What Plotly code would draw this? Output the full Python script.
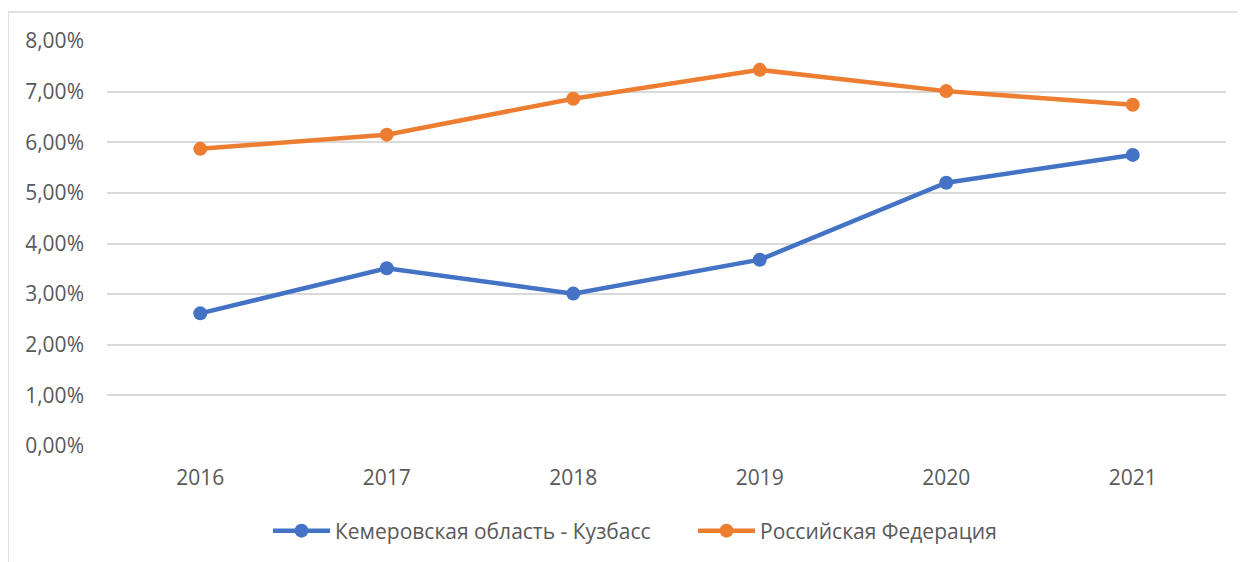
import plotly.graph_objects as go

years = ["2016", "2017", "2018", "2019", "2020", "2021"]
kuzbass = [0.0262, 0.0351, 0.0301, 0.0368, 0.0520, 0.0575]
russia = [0.0587, 0.0615, 0.0686, 0.0743, 0.0701, 0.0674]
y_ticks = [0, 0.01, 0.02, 0.03, 0.04, 0.05, 0.06, 0.07, 0.08]
y_labels = ["0,00%", "1,00%", "2,00%", "3,00%", "4,00%", "5,00%", "6,00%", "7,00%", "8,00%"]

FONT = "Open Sans"
TXT = "#595959"
FS = 21

fig = go.Figure()
fig.add_trace(go.Scatter(x=years, y=kuzbass, mode="lines+markers", name="Кемеровская область - Кузбасс",
                         line=dict(color="#4472C4", width=4.5), marker=dict(size=14, color="#4472C4")))
fig.add_trace(go.Scatter(x=years, y=russia, mode="lines+markers", name="Российская Федерация",
                         line=dict(color="#ED7D31", width=4.5), marker=dict(size=14, color="#ED7D31")))

OFF = 8  # page body margin
W, H = 1245 - OFF, 562 - OFF
L, R, T = 107 - OFF, 19, 41 - OFF
B = H - (447 - OFF)
pw, ph = W - L - R, H - T - B

def px2x(px):
    return (px - OFF - L) / pw

def py2y(py):
    return (H - B - (py - OFF)) / ph

fig.add_shape(type="rect", xref="paper", yref="paper",
              x0=px2x(8), x1=px2x(1244), y0=py2y(575), y1=py2y(12),
              line=dict(color="#D9D9D9", width=1.5), fillcolor="rgba(0,0,0,0)", layer="below")

fig.update_layout(
    width=W, height=H,
    margin=dict(l=L, r=R, t=T, b=B),
    paper_bgcolor="white", plot_bgcolor="white",
    font=dict(family=FONT, size=FS, color=TXT),
    xaxis=dict(type="category", range=[-0.5, 5.5], showgrid=False, zeroline=False,
               showline=False, ticks="", ticklabelstandoff=17,
               tickfont=dict(family=FONT, size=FS, color=TXT)),
    yaxis=dict(range=[0, 0.08], tickvals=y_ticks, ticktext=y_labels, showgrid=True,
               gridcolor="#D9D9D9", gridwidth=1.5, zeroline=False, showline=False, ticks="",
               ticklabelstandoff=22, tickfont=dict(family=FONT, size=FS, color=TXT)),
    legend=dict(orientation="h", x=px2x(268), xanchor="left", y=py2y(531), yanchor="middle",
                font=dict(family=FONT, size=FS, color=TXT), itemwidth=57,
                entrywidth=353, entrywidthmode="pixels"),
    showlegend=True,
)

fig.write_html("out.html")
